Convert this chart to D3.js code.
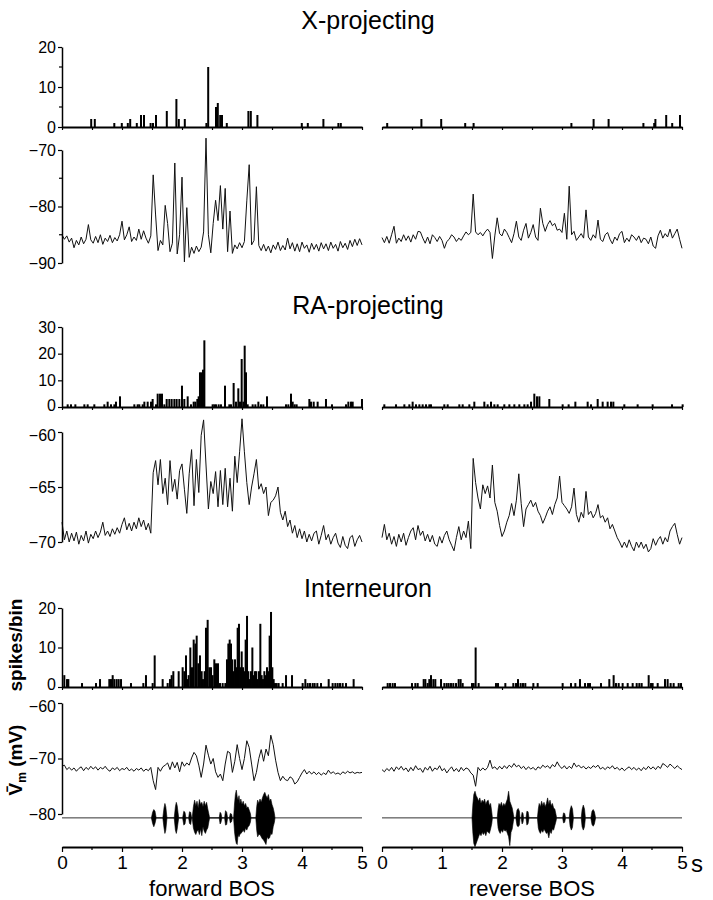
<!DOCTYPE html>
<html><head><meta charset="utf-8">
<script src="https://cdn.jsdelivr.net/npm/d3@7"></script>
<style>
html,body{margin:0;padding:0;background:#fff;}
svg text{font-family:"Liberation Sans",Arial,Helvetica,sans-serif;fill:#000;}
</style></head>
<body>
<script>
// ---------------- DATA ----------------
const timeDomain = [0, 5];          // seconds
const binWidth = 0.025;             // histogram bin (s)
const dt = 0.04;                    // Vm sampling step (s)
const timeTicks = [0, 1, 2, 3, 4, 5];
const halfTicks = [0.5, 1.5, 2.5, 3.5, 4.5];

const panelTitles = ["X-projecting", "RA-projecting", "Interneuron"];
const conditionLabels = ["forward BOS", "reverse BOS"];

// histogram counts: [bin start (s), spikes/bin]
const histXfwd = [[0.47,2],[0.53,2],[0.855,1],[0.98,1],[1.08,1],[1.12,2],[1.23,1],[1.30,3],[1.35,3],[1.46,1],[1.50,1],[1.55,3],
  [1.73,4],[1.89,7],[1.93,2],[2.03,2],[2.39,1],[2.42,15],[2.55,5],[2.58,6],[2.62,3],[2.65,3],[2.73,1],[3.09,4],[3.13,4],[3.24,3],
  [3.98,1],[4.08,1],[4.34,2],[4.59,1],[4.63,1]];
const histXrev = [[0.07,1],[0.64,2],[0.97,2],[1.37,1],[1.51,1],[3.14,1],[3.51,2],[3.76,2],[4.34,1],[4.52,1],[4.54,2],[4.72,3],[4.82,1],[4.95,3]];

const histRAfwd = [[0.078,1],[0.133,1],[0.206,1],[0.356,1],[0.411,1],[0.522,1],[0.689,1],[0.744,2],[0.80,1],[0.856,1],[0.883,2],[0.95,4],
  [1.189,1],[1.244,1],[1.272,1],[1.328,1],[1.356,2],[1.411,2],[1.467,2],[1.494,3],[1.55,1],[1.578,5],[1.617,5],[1.65,5],[1.689,1],
  [1.728,3],[1.772,3],[1.811,3],[1.856,3],[1.894,3],[1.939,3],[1.983,8],[2.022,3],[2.078,4],[2.133,1],[2.178,2],[2.206,2],[2.239,3],
  [2.261,4],[2.283,13],[2.311,13],[2.333,14],[2.356,25],[2.494,1],[2.522,1],[2.55,1],[2.594,1],[2.633,1],[2.70,8],[2.772,1],[2.80,1],
  [2.844,9],[2.883,2],[2.922,7],[2.95,2],[2.978,18],[3.006,2],[3.028,23],[3.05,13],[3.078,1],[3.161,1],[3.206,1],[3.256,2],[3.30,1],
  [3.339,1],[3.40,4],[3.717,1],[3.756,1],[3.80,5],[3.828,2],[3.861,1],[3.894,1],[4.106,3],[4.133,2],[4.178,2],[4.244,2],[4.383,3],
  [4.483,1],[4.717,1],[4.756,2],[4.80,2],[4.828,2],[4.983,3]];
const histRArev = [[0.022,1],[0.217,1],[0.356,1],[0.439,1],[0.494,2],[0.55,1],[0.606,1],[0.661,1],[0.717,1],[0.772,1],[0.80,1],[1.022,1],
  [1.078,1],[1.272,1],[1.328,1],[1.439,1],[1.522,2],[1.689,2],[1.744,1],[1.80,2],[1.856,1],[1.911,1],[2.022,1],[2.106,1],[2.189,1],
  [2.272,1],[2.356,1],[2.411,1],[2.467,2],[2.522,5],[2.567,4],[2.606,4],[2.772,3],[2.994,1],[3.094,1],[3.206,2],[3.411,2],[3.467,1],
  [3.578,3],[3.661,2],[3.744,2],[3.80,2],[3.839,2],[4.022,1],[4.244,1],[4.494,1],[4.817,1],[4.994,1]];

const histINfwd = [[0.022,3],[0.067,2],[0.089,2],[0.317,1],[0.55,1],[0.617,2],[0.772,2],[0.80,2],[0.828,3],[0.856,2],[0.894,2],[0.928,2],
  [0.967,2],[1.133,1],[1.339,1],[1.383,3],[1.494,1],[1.528,8],[1.661,2],[1.744,1],[1.783,2],[1.811,3],[1.839,4],[1.928,4],[1.994,5],
  [2.022,4],[2.05,8],[2.078,2],[2.094,3],[2.122,10],[2.15,5],[2.178,12],[2.206,11],[2.228,13],[2.256,6],[2.283,8],[2.311,4],[2.333,2],
  [2.361,4],[2.383,15],[2.411,17],[2.439,5],[2.467,5],[2.494,3],[2.522,7],[2.55,6],[2.583,6],[2.617,1],[2.661,1],[2.706,1],[2.733,7],
  [2.756,11],[2.778,12],[2.80,11],[2.822,7],[2.844,4],[2.867,7],[2.889,5],[2.911,15],[2.933,16],[2.956,5],[2.978,9],[3.0,5],[3.022,4],
  [3.044,12],[3.067,18],[3.089,4],[3.111,2],[3.133,4],[3.156,10],[3.178,3],[3.20,4],[3.222,4],[3.244,2],[3.267,4],[3.289,16],[3.311,3],
  [3.333,2],[3.356,4],[3.378,3],[3.40,5],[3.422,4],[3.444,13],[3.467,19],[3.489,5],[3.511,2],[3.533,1],[3.561,1],[3.594,1],[3.661,1],
  [3.717,3],[3.817,3],[3.994,1],[4.039,2],[4.078,1],[4.117,1],[4.161,1],[4.194,1],[4.239,1],[4.30,1],[4.428,2],[4.494,1],[4.539,1],
  [4.578,1],[4.617,1],[4.661,1],[4.717,1],[4.844,2]];
const histINrev = [[0.078,1],[0.117,1],[0.161,1],[0.20,1],[0.483,1],[0.539,1],[0.578,1],[0.678,2],[0.706,2],[0.744,1],[0.772,2],[0.80,3],
  [0.839,2],[0.872,2],[0.967,2],[1.022,1],[1.061,1],[1.094,1],[1.133,1],[1.172,1],[1.217,1],[1.261,2],[1.294,2],[1.328,1],[1.483,1],
  [1.511,1],[1.544,10],[1.594,1],[1.883,1],[1.917,1],[2.039,1],[2.172,1],[2.217,1],[2.25,2],[2.294,1],[2.333,1],[2.372,1],[2.506,1],
  [2.578,1],[2.994,1],[3.133,1],[3.206,1],[3.283,2],[3.367,1],[3.417,1],[3.45,1],[3.633,1],[3.772,2],[3.844,3],[3.883,1],[3.928,1],
  [3.994,1],[4.078,1],[4.161,1],[4.228,1],[4.272,1],[4.311,1],[4.428,3],[4.467,1],[4.494,1],[4.578,1],[4.70,2],[4.744,2],[4.794,1],
  [4.844,1],[4.928,1],[4.967,1]];

// mean membrane potential (mV), one value every dt seconds, 0..5 s
const vmXfwd = [-85.0,-85.8,-85.2,-86.3,-85.6,-87.3,-86.0,-86.8,-85.4,-86.6,-85.8,-83.2,-85.9,-86.5,-85.3,-86.4,-85.0,-86.7,-85.6,-86.2,
  -85.1,-86.4,-85.5,-86.1,-85.0,-82.6,-85.9,-85.0,-83.6,-86.2,-85.4,-86.0,-84.0,-85.8,-84.3,-85.6,-86.5,-85.2,-74.4,-81.5,
  -87.8,-86.0,-86.8,-79.8,-83.0,-88.0,-86.5,-72.3,-88.4,-85.0,-74.8,-89.8,-80.2,-89.0,-87.2,-88.3,-87.0,-88.0,-87.2,-84.5,
  -67.9,-85.0,-88.2,-83.0,-78.9,-82.5,-76.3,-84.0,-76.8,-88.0,-80.8,-88.3,-86.8,-87.5,-86.4,-87.3,-86.2,-79.0,-72.6,-86.8,
  -86.0,-76.5,-86.9,-87.8,-86.7,-87.9,-87.0,-88.2,-86.8,-87.6,-86.3,-87.8,-86.9,-87.7,-85.6,-87.5,-86.4,-87.9,-86.6,-88.0,
  -86.3,-87.4,-86.8,-88.1,-86.5,-87.6,-86.7,-87.9,-86.4,-87.5,-86.6,-87.8,-86.3,-87.4,-86.7,-87.9,-86.2,-87.3,-86.5,-87.6,
  -86.0,-87.1,-85.8,-86.9,-85.7,-86.8];
const vmXrev = [-85.5,-86.4,-85.3,-86.5,-85.0,-83.5,-86.5,-85.6,-86.2,-85.0,-86.0,-85.2,-86.3,-85.0,-85.8,-84.4,-84.5,-85.6,-86.5,-85.4,
  -86.6,-85.0,-85.5,-86.2,-85.3,-86.0,-87.4,-86.2,-85.8,-85.0,-85.4,-86.2,-85.6,-86.0,-85.2,-84.5,-85.0,-84.6,-77.8,-84.5,
  -85.0,-84.6,-85.2,-84.5,-84.0,-84.6,-89.2,-85.2,-82.0,-84.8,-85.2,-84.0,-84.6,-85.5,-86.4,-84.8,-82.6,-85.4,-86.0,-84.2,
  -83.0,-85.6,-84.6,-83.2,-85.4,-86.0,-80.3,-83.0,-84.4,-83.2,-82.5,-83.4,-83.0,-84.2,-84.0,-84.6,-81.2,-85.8,-76.4,-85.0,
  -84.4,-86.0,-85.4,-84.8,-85.6,-80.6,-85.4,-86.0,-85.0,-85.6,-82.4,-85.8,-86.2,-85.0,-84.6,-85.8,-86.6,-85.4,-86.0,-84.8,
  -84.4,-86.4,-85.6,-86.2,-85.0,-85.4,-86.0,-85.2,-86.4,-85.6,-85.8,-86.6,-85.4,-87.0,-87.4,-85.2,-84.2,-85.6,-84.8,-85.4,
  -84.0,-85.6,-84.8,-84.0,-85.8,-87.4];
const vmRAfwd = [-68.2,-69.8,-69.0,-70.0,-69.2,-69.9,-69.1,-70.2,-69.4,-69.9,-69.0,-70.1,-69.3,-69.7,-69.0,-69.6,-69.1,-68.2,-69.4,-69.0,
  -69.5,-68.8,-69.3,-68.7,-69.2,-68.4,-67.8,-68.9,-68.3,-69.0,-68.2,-68.8,-67.8,-68.6,-68.0,-68.9,-68.3,-69.2,-63.7,-62.6,
  -64.8,-62.5,-65.6,-64.2,-66.6,-62.6,-65.4,-64.3,-66.1,-63.5,-62.9,-65.2,-67.4,-63.8,-61.6,-66.7,-62.5,-65.5,-60.3,-58.9,
  -63.0,-67.0,-64.5,-65.6,-63.6,-66.8,-63.5,-66.6,-63.3,-66.8,-64.2,-67.2,-62.2,-64.6,-61.8,-58.8,-61.8,-64.6,-66.6,-65.0,
  -63.8,-62.5,-65.2,-64.7,-65.6,-65.0,-67.6,-66.4,-66.2,-65.8,-65.0,-67.3,-68.0,-67.2,-68.6,-68.0,-69.2,-68.5,-69.6,-68.8,
  -69.7,-69.0,-70.0,-69.3,-69.9,-69.2,-69.0,-70.2,-69.4,-68.5,-69.8,-69.3,-70.2,-69.6,-69.2,-70.1,-70.5,-69.5,-70.3,-70.6,
  -69.6,-69.4,-70.4,-69.8,-69.4,-70.0];
const vmRArev = [-69.6,-68.4,-69.8,-69.2,-70.2,-69.5,-70.4,-69.3,-70.0,-69.2,-70.3,-69.6,-69.0,-68.7,-69.8,-68.5,-69.4,-69.0,-69.9,-69.3,
  -70.0,-69.4,-70.2,-70.4,-69.5,-70.1,-69.4,-69.0,-69.8,-70.3,-70.8,-69.6,-68.6,-69.8,-69.0,-69.6,-68.1,-70.6,-62.4,-64.6,
  -66.0,-67.0,-64.8,-65.6,-64.9,-66.0,-63.0,-66.4,-67.2,-68.5,-69.5,-69.0,-68.2,-67.6,-66.5,-67.6,-66.2,-63.8,-66.5,-68.6,
  -67.0,-66.6,-66.2,-66.8,-66.4,-67.2,-67.6,-68.3,-67.8,-67.2,-66.8,-67.5,-66.6,-66.0,-64.0,-66.4,-66.7,-67.0,-67.4,-66.8,
  -65.1,-67.5,-68.2,-67.3,-67.8,-65.4,-67.5,-67.2,-67.8,-67.4,-66.6,-67.8,-67.6,-68.2,-67.8,-68.8,-68.4,-69.0,-69.6,-70.0,
  -70.5,-70.0,-70.5,-69.8,-70.4,-70.8,-70.0,-70.5,-70.0,-70.6,-70.2,-70.9,-70.6,-69.7,-70.3,-69.8,-69.5,-70.2,-69.6,-70.0,
  -69.0,-68.6,-68.3,-69.3,-70.2,-69.6];
const vmINfwd = [-71.4,-71.2,-72.0,-71.6,-72.1,-71.7,-72.3,-71.8,-71.5,-72.2,-71.6,-72.0,-71.4,-71.9,-71.5,-72.1,-71.6,-71.9,-71.4,-72.0,
  -72.3,-71.7,-72.0,-71.6,-72.2,-71.8,-72.0,-71.6,-72.2,-71.9,-72.3,-71.8,-72.1,-71.7,-72.3,-71.9,-72.2,-71.6,-74.0,-75.6,
  -71.6,-72.3,-71.5,-71.2,-70.8,-72.0,-70.6,-71.7,-70.7,-72.4,-70.6,-71.4,-70.8,-71.2,-69.9,-68.9,-69.5,-71.2,-73.4,-71.0,
  -67.6,-69.4,-71.0,-70.0,-72.4,-73.4,-72.8,-74.0,-71.0,-68.7,-69.0,-72.5,-70.5,-67.5,-70.0,-72.0,-70.0,-66.8,-68.0,-71.0,
  -74.0,-72.5,-70.0,-68.4,-70.5,-68.3,-69.5,-65.8,-67.5,-70.3,-72.5,-74.0,-73.2,-73.8,-74.0,-73.3,-73.6,-74.6,-74.2,-73.4,
  -72.6,-72.0,-72.8,-72.3,-72.8,-72.4,-72.9,-72.5,-73.0,-72.6,-72.9,-72.1,-72.7,-72.4,-72.8,-72.6,-72.9,-72.4,-72.7,-72.3,
  -72.6,-72.4,-72.7,-72.5,-72.6,-72.5];
const vmINrev = [-72.0,-72.4,-71.8,-72.2,-71.6,-72.3,-71.5,-72.0,-71.4,-72.1,-71.7,-72.4,-71.6,-72.2,-71.3,-72.0,-71.8,-72.5,-71.6,-72.1,
  -71.4,-72.3,-71.7,-72.0,-71.3,-72.2,-71.8,-72.6,-72.0,-71.5,-72.3,-71.8,-72.4,-71.6,-72.2,-71.7,-71.9,-72.6,-73.0,-75.0,
  -71.6,-72.2,-71.7,-72.1,-71.6,-70.3,-71.8,-71.5,-72.0,-71.4,-71.9,-71.3,-71.8,-71.2,-71.6,-70.9,-71.5,-71.2,-71.8,-71.4,
  -72.0,-71.5,-71.9,-71.6,-72.1,-71.5,-71.8,-71.2,-71.6,-71.3,-71.8,-71.1,-71.5,-70.6,-71.4,-71.8,-71.3,-71.9,-71.4,-71.8,
  -70.8,-71.5,-71.2,-71.7,-71.4,-71.9,-71.5,-71.8,-71.3,-71.6,-71.2,-71.9,-71.6,-72.0,-71.5,-71.8,-71.3,-71.9,-71.6,-72.1,
  -71.7,-72.2,-71.8,-71.5,-72.0,-71.6,-72.1,-71.7,-72.2,-71.6,-72.0,-71.4,-71.9,-71.5,-72.0,-71.4,-71.8,-70.9,-71.2,-71.6,
  -71.0,-71.4,-71.8,-71.3,-71.7,-72.0];

// song oscillogram envelope (drawn on the interneuron mV axis): [t, up, down] in mV around the baseline
const songBaseline = -80.7;
const songFwd = [[1.49,0,0],[1.51,1.0,1.0],[1.53,1.5,1.6],[1.55,1.2,1.0],[1.57,0,0],
  [1.68,0,0],[1.70,1.8,1.8],[1.715,2.6,2.8],[1.73,2.0,2.2],[1.75,0,0],
  [1.87,0,0],[1.89,2.0,2.2],[1.905,2.8,2.8],[1.92,2.2,2.0],[1.945,0,0],
  [2.01,0,0],[2.03,1.2,1.3],[2.05,1.0,1.1],[2.065,0,0],
  [2.11,0,0],[2.125,1.1,1.0],[2.145,1.0,1.2],[2.16,0,0],
  [2.17,0,0],[2.19,2.0,1.8],[2.21,3.2,2.6],[2.23,2.2,3.0],[2.25,3.0,2.4],[2.27,1.8,2.2],[2.29,3.3,3.0],[2.31,2.4,2.0],[2.33,2.8,3.2],
  [2.35,2.0,1.6],[2.37,3.0,2.4],[2.39,2.2,2.8],[2.41,2.8,2.2],[2.43,1.6,1.8],[2.45,0.6,0.6],[2.46,0,0],
  [2.62,0,0],[2.635,1.0,1.1],[2.65,0.8,0.8],[2.665,0,0],
  [2.71,0,0],[2.725,1.3,1.3],[2.745,1.0,1.2],[2.76,0,0],
  [2.79,0,0],[2.805,0.8,0.9],[2.825,0.7,0.7],[2.84,0,0],
  [2.86,0,0],[2.875,2.5,2.5],[2.89,4.2,3.8],[2.905,5.0,4.6],[2.92,3.8,4.8],[2.935,3.2,3.0],[2.95,4.0,3.4],[2.965,2.6,3.0],[2.98,3.4,2.8],
  [3.00,2.4,2.6],[3.02,3.0,2.2],[3.04,2.2,2.6],[3.06,2.6,1.8],[3.08,1.8,2.2],[3.10,2.0,1.6],[3.12,1.4,1.4],[3.14,0.8,0.8],[3.15,0,0],
  [3.23,0,0],[3.245,2.0,2.2],[3.26,3.2,3.4],[3.28,2.6,3.0],[3.30,3.4,3.0],[3.32,2.8,3.4],[3.34,3.6,3.8],[3.36,4.2,4.0],[3.38,4.6,4.4],
  [3.40,4.0,4.8],[3.42,3.6,3.4],[3.44,4.2,3.8],[3.46,3.0,3.6],[3.48,3.4,2.8],[3.50,2.4,3.0],[3.52,1.8,1.6],[3.54,0.8,0.8],[3.55,0,0]];
const songRev = [[1.50,0,0],[1.515,2.5,2.8],[1.53,4.2,4.6],[1.55,4.8,5.2],[1.57,4.0,4.6],[1.59,3.6,4.0],[1.61,3.0,3.4],[1.63,3.6,2.8],
  [1.65,2.6,3.2],[1.67,3.2,2.6],[1.69,2.8,3.0],[1.71,3.4,2.6],[1.73,2.4,3.2],[1.75,3.0,2.4],[1.77,3.2,2.6],[1.79,2.2,2.8],[1.81,2.6,2.0],
  [1.83,1.0,1.0],[1.84,0,0],
  [1.92,0,0],[1.935,1.6,1.8],[1.95,2.6,2.4],[1.97,2.2,2.8],[1.99,2.8,2.2],[2.01,2.0,2.6],[2.03,2.6,2.0],[2.05,2.2,2.4],[2.07,2.8,2.2],
  [2.09,3.4,2.8],[2.11,4.8,3.4],[2.13,3.0,5.0],[2.15,2.4,2.6],[2.17,1.8,2.0],[2.19,0.6,0.6],[2.20,0,0],
  [2.23,0,0],[2.25,1.4,1.4],[2.27,1.7,1.6],[2.29,1.2,1.3],[2.30,0,0],
  [2.32,0,0],[2.335,1.0,1.1],[2.35,0.8,0.8],[2.36,0,0],
  [2.40,0,0],[2.415,1.2,1.3],[2.435,1.1,1.0],[2.45,0,0],
  [2.59,0,0],[2.605,1.6,1.8],[2.62,2.6,2.4],[2.64,2.0,2.8],[2.66,3.0,2.2],[2.68,2.2,2.6],[2.70,2.8,2.0],[2.72,2.0,2.4],[2.74,2.6,2.8],
  [2.76,3.6,2.6],[2.78,2.4,3.6],[2.80,3.2,2.4],[2.82,2.2,2.8],[2.84,2.6,2.0],[2.86,1.8,2.2],[2.88,1.6,1.4],[2.90,0.6,0.6],[2.91,0,0],
  [3.01,0,0],[3.025,0.9,0.9],[3.045,0.8,0.8],[3.06,0,0],
  [3.12,0,0],[3.135,1.4,1.5],[3.155,2.2,2.2],[3.175,1.6,1.7],[3.19,0,0],
  [3.32,0,0],[3.335,1.5,1.6],[3.355,2.3,2.2],[3.375,1.6,1.6],[3.39,0,0],
  [3.48,0,0],[3.50,1.2,1.2],[3.52,1.5,1.5],[3.54,1.1,1.1],[3.56,0,0]];

// axis tick values
const histXTicks = [0, 10, 20], histXMinor = [5, 15];
const vmXTicks = [-70, -80, -90], vmXMinor = [-75, -85];
const histRATicks = [0, 10, 20, 30];
const vmRATicks = [-60, -65, -70];
const histINTicks = [0, 10, 20];
const vmINTicks = [-60, -70, -80];

// ---------------- DRAWING ----------------
const W = 713, H = 900;
const svg = d3.select("body").append("svg").attr("width", W).attr("height", H);

const xL = d3.scaleLinear().domain(timeDomain).range([62, 362]);
const xR = d3.scaleLinear().domain(timeDomain).range([382, 682]);

const panels = {
  hX:  d3.scaleLinear().domain([0, 20]).range([127, 47]),
  vX:  d3.scaleLinear().domain([-90, -70]).range([263, 150]),
  hRA: d3.scaleLinear().domain([0, 30]).range([407, 327]),
  vRA: d3.scaleLinear().domain([-70, -60]).range([542, 432]),
  hIN: d3.scaleLinear().domain([0, 20]).range([687, 608]),
  vIN: d3.scaleLinear().domain([-80, -60]).range([814, 703])
};
const bottomAxisY = 847;

// titles
const titleY = [29, 314, 597];
panelTitles.forEach((t, i) => {
  svg.append("text").attr("x", 368).attr("y", titleY[i]).attr("text-anchor", "middle")
    .style("font-size", "25px").text(t);
});

function yAxis(scale, ticks, minor, nudge) {
  const g = svg.append("g").attr("transform", `translate(${xL(0)},0)`);
  g.call(d3.axisLeft(scale).tickValues(ticks).tickSize(4).tickPadding(2).tickSizeOuter(0).tickFormat(d3.format("d")));
  if (minor) g.call(s => s.selectAll(null).data(minor).enter().append("line")
      .attr("x1", -3).attr("x2", 0).attr("y1", d => scale(d)).attr("y2", d => scale(d)).attr("stroke", "#000").attr("stroke-width", 1.2));
  g.select(".domain").attr("stroke-width", 1.5);
  g.selectAll(".tick line").attr("stroke-width", 1.2);
  g.selectAll(".tick text").style("font-size", "16px").attr("font-family", null);
  if (nudge) g.selectAll(".tick text").filter(d => d === nudge[0]).attr("y", nudge[1]);
}

function histogram(data, x, y) {
  const g = svg.append("g");
  g.selectAll("rect").data(data).enter().append("rect")
    .attr("x", d => x(d[0]))
    .attr("width", d => Math.max(2, x(d[0] + binWidth) - x(d[0])))
    .attr("y", d => y(d[1]))
    .attr("height", d => y(0) - y(d[1]))
    .attr("fill", "#000");
  const ax = svg.append("g").attr("transform", `translate(0,${y(0)})`);
  ax.call(d3.axisBottom(x).tickValues(d3.merge([timeTicks, halfTicks])).tickSize(3).tickSizeOuter(0).tickFormat(""));
  ax.select(".domain").attr("stroke-width", 2);
  ax.selectAll(".tick line").attr("stroke-width", 1.2);
}

function trace(data, x, y) {
  const line = d3.line().x((d, i) => x(i * dt)).y(d => y(d));
  svg.append("path").datum(data).attr("d", line)
    .attr("fill", "none").attr("stroke", "#111").attr("stroke-width", 1).attr("stroke-linejoin", "round");
}

function song(data, x, y) {
  svg.append("line").attr("x1", x(timeDomain[0])).attr("x2", x(timeDomain[1]))
    .attr("y1", y(songBaseline)).attr("y2", y(songBaseline)).attr("stroke", "#333").attr("stroke-width", 1);
  const area = d3.area().x(d => x(d[0]))
    .y0(d => y(songBaseline - d[2])).y1(d => y(songBaseline + d[1]));
  svg.append("path").datum(data).attr("d", area).attr("fill", "#000").attr("stroke", "#000").attr("stroke-width", 0.6);
}

// X-projecting
histogram(histXfwd, xL, panels.hX);
histogram(histXrev, xR, panels.hX);
yAxis(panels.hX, histXTicks, histXMinor);
trace(vmXfwd, xL, panels.vX);
trace(vmXrev, xR, panels.vX);
yAxis(panels.vX, vmXTicks, vmXMinor);

// RA-projecting
histogram(histRAfwd, xL, panels.hRA);
histogram(histRArev, xR, panels.hRA);
yAxis(panels.hRA, histRATicks, null, [0, -2]);
trace(vmRAfwd, xL, panels.vRA);
trace(vmRArev, xR, panels.vRA);
yAxis(panels.vRA, vmRATicks, null, [-60, 3]);

// Interneuron
histogram(histINfwd, xL, panels.hIN);
histogram(histINrev, xR, panels.hIN);
yAxis(panels.hIN, histINTicks, null, [0, -3]);
trace(vmINfwd, xL, panels.vIN);
trace(vmINrev, xR, panels.vIN);
yAxis(panels.vIN, vmINTicks, null, [-60, 3]);
song(songFwd, xL, panels.vIN);
song(songRev, xR, panels.vIN);

// bottom time axes
[xL, xR].forEach(x => {
  const g = svg.append("g").attr("transform", `translate(0,${bottomAxisY})`);
  g.call(d3.axisBottom(x).tickValues(timeTicks).tickSize(5).tickPadding(4).tickSizeOuter(0).tickFormat(d3.format("d")));
  g.select(".domain").attr("stroke-width", 2);
  g.selectAll(".tick line").attr("stroke-width", 1.2);
  g.selectAll(".tick text").style("font-size", "19px").attr("font-family", null);
  g.selectAll(null).data(halfTicks).enter().append("line")
    .attr("x1", d => x(d)).attr("x2", d => x(d)).attr("y1", 0).attr("y2", 3)
    .attr("stroke", "#000").attr("stroke-width", 1.2);
});
svg.append("text").attr("x", 697).attr("y", 872).attr("text-anchor", "middle").style("font-size", "24px").text("s");

conditionLabels.forEach((t, i) => {
  const x = i === 0 ? xL : xR;
  svg.append("text").attr("x", x(2.5)).attr("y", 896).attr("text-anchor", "middle").style("font-size", "22px").text(t);
});

// rotated y labels
svg.append("text").attr("transform", "translate(22,645) rotate(-90)").attr("text-anchor", "middle")
  .style("font-size", "19px").style("font-weight", "bold").text("spikes/bin");
const vl = svg.append("text").attr("transform", "translate(22,760) rotate(-90)").attr("text-anchor", "middle")
  .style("font-size", "19px").style("font-weight", "bold");
vl.append("tspan").text("V\u0304");
vl.append("tspan").attr("dy", 4).style("font-size", "12px").text("m");
vl.append("tspan").attr("dy", -4).text(" (mV)");
</script>
</body></html>
